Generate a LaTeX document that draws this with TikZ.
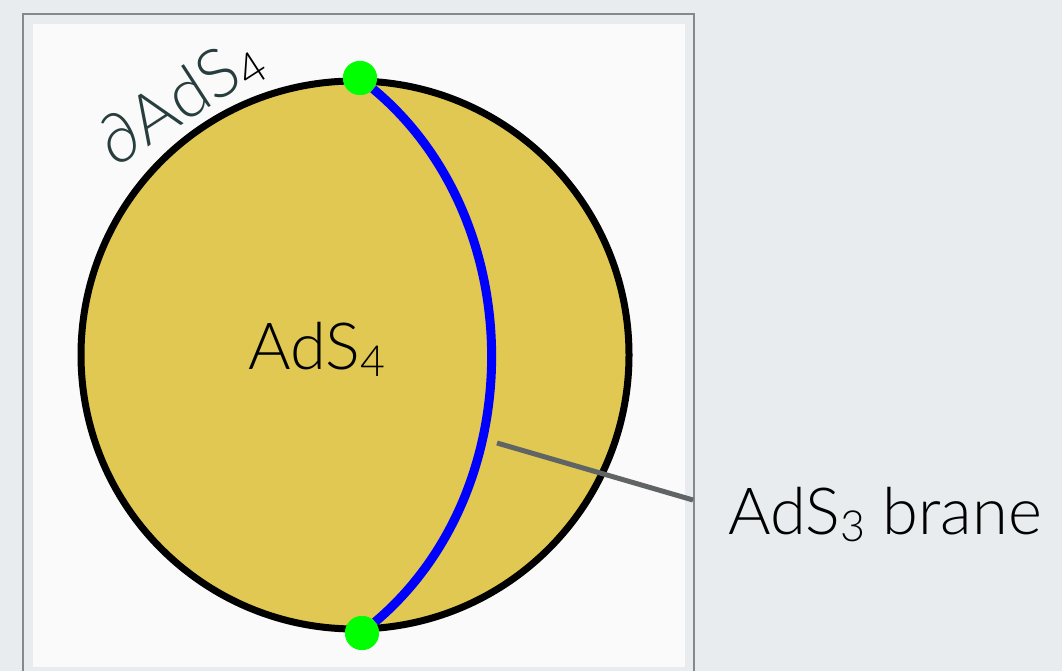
\documentclass[tikz,border=0pt]{standalone}
\usepackage{fontspec}
\setmainfont{Lato Light}
\usetikzlibrary{positioning}
\definecolor{slidebg}{RGB}{232,236,239}
\definecolor{panelbg}{RGB}{250,250,250}
\definecolor{panelframe}{RGB}{136,136,136}
\definecolor{bulkfill}{RGB}{224,200,82}
\definecolor{bdrytext}{RGB}{40,62,62}
\definecolor{leadergray}{RGB}{96,100,100}
\newcommand{\lowidx}[1]{\raisebox{-0.1em}{\fontsize{0.66\dimexpr\fontdimen6\font\relax}{10}\selectfont #1}}

\begin{document}
\begin{tikzpicture}[x=1pt, y=1pt,
    bulk/.style={circle, draw=black, line width=7pt, fill=bulkfill, minimum size=548pt, inner sep=0pt},
    endpt/.style={circle, fill=green, minimum size=34pt, inner sep=0pt},
    brane/.style={draw=blue, line width=9pt},
    leader/.style={draw=leadergray, line width=5pt},
    lbl/.style={font=\fontsize{65}{70}\selectfont, inner sep=0pt}
]
    \useasboundingbox (0,0) rectangle (1062,671);
    \fill[slidebg] (0,0) rectangle (1062,671);

    % Slide panel
    \draw[panelframe, line width=2.5pt] (23,-10) rectangle (694,657);
    \fill[panelbg] (33,4) rectangle (685,647);

    % AdS4 bulk disc
    \node[bulk] (disc) at (355,316) {};
    \node[lbl, anchor=base west] (bulklbl) at (248,301) {AdS\lowidx{4}};
    \node[lbl, font=\fontsize{68}{72}\selectfont, rotate=33, text=bdrytext] (bdrylbl) at (180,570)
        {∂AdS\lowidx{\color{black}4}};

    % Brane ending on the boundary
    \node[endpt] (top) at (360,593) {};
    \node[endpt] (bot) at (362,38) {};
    \draw[brane] (top) to[bend left=50, looseness=0.98] (bot);
    \node[endpt] at (top) {};
    \node[endpt] at (bot) {};

    % Label with leader line
    \coordinate (onbrane) at (497,228);
    \node[lbl, anchor=base west] (branelbl) at (728,136) {AdS\lowidx{3} brane};
    \draw[leader] (onbrane) -- ([shift={(-35pt,35pt)}]branelbl.base west);

\end{tikzpicture}
\end{document}
